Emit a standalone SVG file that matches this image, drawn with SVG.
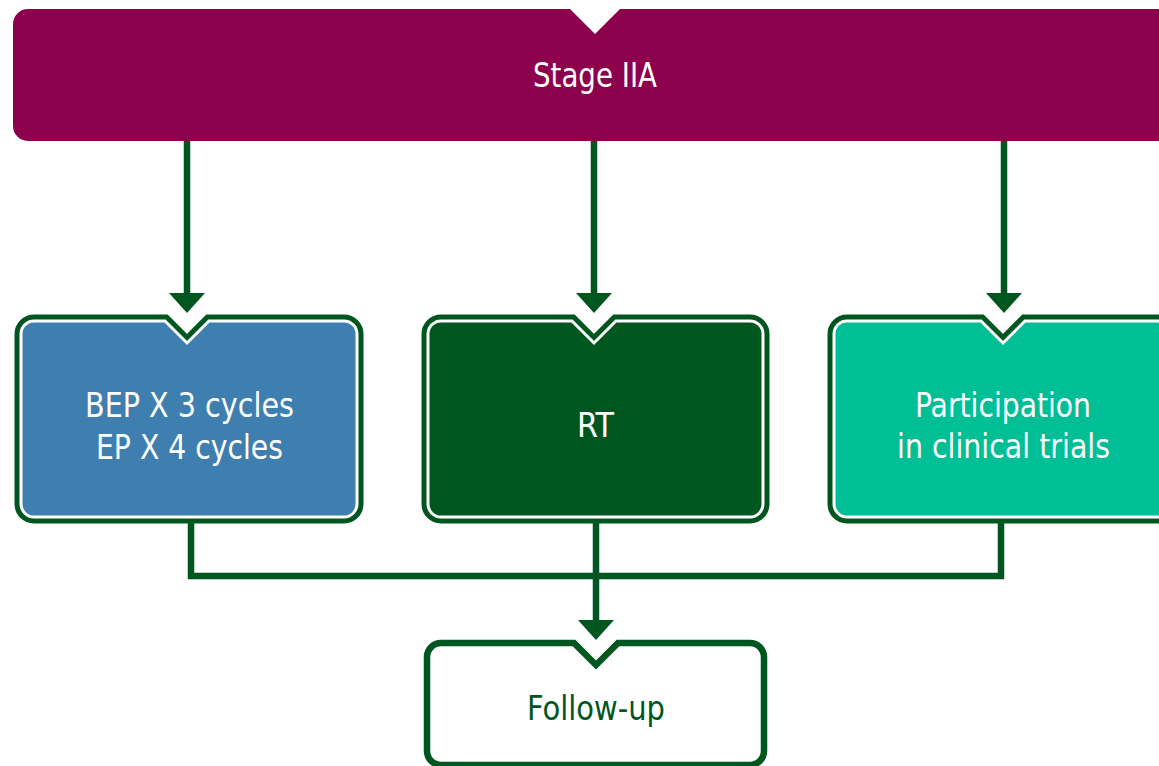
<svg xmlns="http://www.w3.org/2000/svg" width="1159" height="766" viewBox="0 0 1159 766">
<defs>
<style>
.txt{font-family:"Liberation Sans Narrow","DejaVu Sans Condensed","Liberation Sans",Arial,sans-serif;font-size:34px;text-anchor:middle}
.w{fill:#ffffff}
.g{fill:#00561F}
.under{fill:none;stroke:#00561F;stroke-width:13;stroke-linejoin:miter}
.over{stroke:#ffffff;stroke-width:3;stroke-linejoin:miter}
.conn{fill:none;stroke:#00561F;stroke-width:6.5}
.head{fill:#00561F}
</style>
</defs>
<rect width="1159" height="766" fill="#ffffff"/>
<g id="stage">
<path d="M28 9 H570 L595 34 L620 9 H1180 V141 H28 A15 15 0 0 1 13 126 V24 A15 15 0 0 1 28 9 Z" fill="#8C004C"/>
<text class="txt w" x="595" y="87" textLength="124" lengthAdjust="spacingAndGlyphs">Stage IIA</text>
</g>
<g id="connectors">
<path class="conn" d="M187 141 V296"/>
<polygon class="head" points="169,293 205,293 187,313"/>
<path class="conn" d="M594 141 V296"/>
<polygon class="head" points="576,293 612,293 594,313"/>
<path class="conn" d="M1004 141 V296"/>
<polygon class="head" points="986,293 1022,293 1004,313"/>
<path class="conn" d="M191 520 V576 H1001 V520"/>
<path class="conn" d="M596 520 V623"/>
<polygon class="head" points="578,620 614,620 596,640"/>
</g>
<g id="bep">
<path class="under" d="M34 321 H165 L187 343 L209 321 H344 A13 13 0 0 1 357 334 V504 A13 13 0 0 1 344 517 H34 A13 13 0 0 1 21 504 V334 A13 13 0 0 1 34 321 Z"/>
<path class="over" fill="#3F7FAF" d="M34 321 H165 L187 343 L209 321 H344 A13 13 0 0 1 357 334 V504 A13 13 0 0 1 344 517 H34 A13 13 0 0 1 21 504 V334 A13 13 0 0 1 34 321 Z"/>
<text class="txt w" x="189.5" y="417" textLength="209" lengthAdjust="spacingAndGlyphs">BEP X 3 cycles</text>
<text class="txt w" x="189.5" y="459" textLength="187" lengthAdjust="spacingAndGlyphs">EP X 4 cycles</text>
</g>
<g id="rt">
<path class="under" d="M441 321 H572 L594 343 L616 321 H750 A13 13 0 0 1 763 334 V504 A13 13 0 0 1 750 517 H441 A13 13 0 0 1 428 504 V334 A13 13 0 0 1 441 321 Z"/>
<path class="over" fill="#00561F" d="M441 321 H572 L594 343 L616 321 H750 A13 13 0 0 1 763 334 V504 A13 13 0 0 1 750 517 H441 A13 13 0 0 1 428 504 V334 A13 13 0 0 1 441 321 Z"/>
<text class="txt w" x="595.5" y="437" textLength="37" lengthAdjust="spacingAndGlyphs">RT</text>
</g>
<g id="trials">
<path class="under" d="M847 321 H981 L1003 343 L1025 321 H1157 A13 13 0 0 1 1170 334 V504 A13 13 0 0 1 1157 517 H847 A13 13 0 0 1 834 504 V334 A13 13 0 0 1 847 321 Z"/>
<path class="over" fill="#00BE96" d="M847 321 H981 L1003 343 L1025 321 H1157 A13 13 0 0 1 1170 334 V504 A13 13 0 0 1 1157 517 H847 A13 13 0 0 1 834 504 V334 A13 13 0 0 1 847 321 Z"/>
<text class="txt w" x="1003" y="417" textLength="176" lengthAdjust="spacingAndGlyphs">Participation</text>
<text class="txt w" x="1003.5" y="458" textLength="213" lengthAdjust="spacingAndGlyphs">in clinical trials</text>
</g>
<g id="followup">
<path d="M441 643 H574 L596 665 L618 643 H750 A14 14 0 0 1 764 657 V751 A14 14 0 0 1 750 765 H441 A14 14 0 0 1 427 751 V657 A14 14 0 0 1 441 643 Z" fill="#ffffff" stroke="#00561F" stroke-width="6.5"/>
<text class="txt g" x="596" y="720" textLength="138" lengthAdjust="spacingAndGlyphs">Follow-up</text>
</g>
</svg>
